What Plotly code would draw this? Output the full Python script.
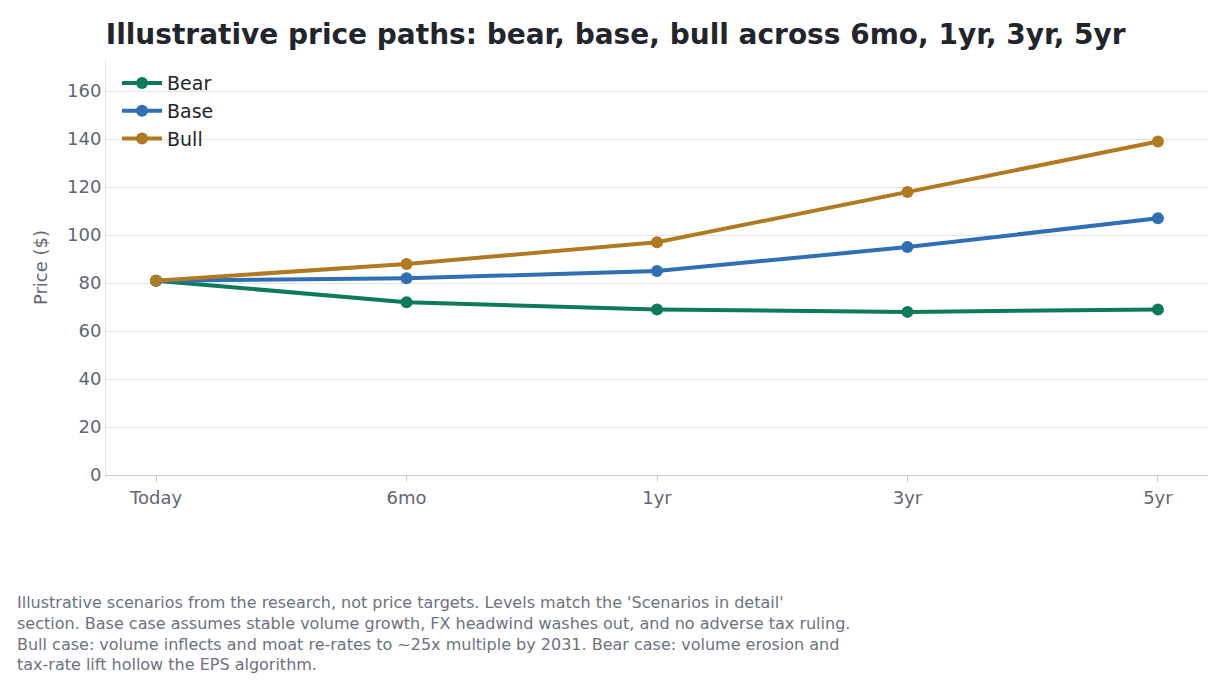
import plotly.graph_objects as go

periods = ["Today", "6mo", "1yr", "3yr", "5yr"]
bear = [81, 72, 69, 68, 69]
base = [81, 82, 85, 95, 107]
bull = [81, 88, 97, 118, 139]
y_ticks = [0, 20, 40, 60, 80, 100, 120, 140, 160]

fig = go.Figure()
for name, vals, col in [("Bear", bear, "#0e7a5c"), ("Base", base, "#2f6fb3"), ("Bull", bull, "#b07a22")]:
    fig.add_trace(go.Scatter(x=list(range(len(periods))), y=vals, name=name, mode="lines+markers",
                             line=dict(color=col, width=4), marker=dict(size=12, color=col)))

fig.update_layout(
    width=1222, height=689,
    margin=dict(l=98, r=22, t=52, b=222),
    paper_bgcolor="white", plot_bgcolor="white",
    font=dict(family="DejaVu Sans", size=18, color="#5f6673"),
    title=dict(text="<b>Illustrative price paths: bear, base, bull across 6mo, 1yr, 3yr, 5yr</b>",
               x=0.080, xanchor="left", y=0.962, yanchor="middle",
               font=dict(size=28, color="#22262c")),
    legend=dict(x=0.01, y=0.99, xanchor="left", yanchor="top", bgcolor="rgba(0,0,0,0)",
                font=dict(size=19, color="#22262c"), itemwidth=40),
    showlegend=True,
)
fig.update_xaxes(tickvals=list(range(len(periods))), ticktext=periods, range=[-0.2, 4.2],
                 showgrid=False, showline=True, linecolor="#cccccc", ticks="outside",
                 tickcolor="#cccccc", ticklen=6, zeroline=False)
fig.update_yaxes(tickvals=y_ticks, range=[0, 173], showgrid=True, gridcolor="#e3e3e3",
                 showline=True, linecolor="#e3e3e3", zeroline=False,
                 title=dict(text="Price ($)", standoff=14, font=dict(size=18)))
fig.add_annotation(xref="paper", yref="paper", x=-0.0826, y=-0.28, xanchor="left", yanchor="top",
                   align="left", showarrow=False,
                   font=dict(size=16, color="#6b7280"),
                   text="Illustrative scenarios from the research, not price targets. Levels match the 'Scenarios in detail'<br>"
                        "section. Base case assumes stable volume growth, FX headwind washes out, and no adverse tax ruling.<br>"
                        "Bull case: volume inflects and moat re-rates to ~25x multiple by 2031. Bear case: volume erosion and<br>"
                        "tax-rate lift hollow the EPS algorithm.")
fig.write_html("out.html")
